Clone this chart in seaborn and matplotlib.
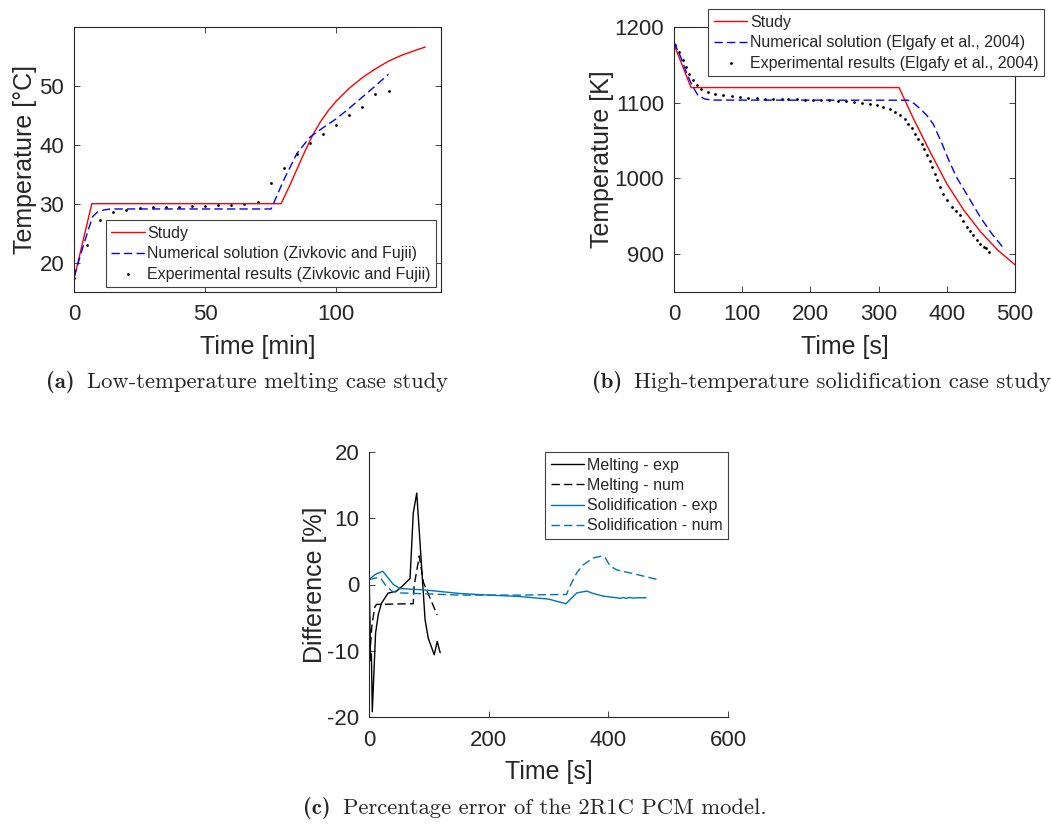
import numpy as np
import pandas as pd
import matplotlib
matplotlib.use('Agg')
import matplotlib.pyplot as plt
import seaborn as sns

# ---- (a) low temperature melting, time in min ----
melt_study_t = [0, 6.8, 79, 82, 85, 88, 91, 94, 97, 100, 105, 110, 115, 120, 125, 130, 134]
melt_study_T = [17.2, 30, 30, 32.8, 35.8, 38.8, 41.6, 43.9, 45.8, 47.4, 49.6, 51.4, 52.9, 54.2,
                55.2, 56.0, 56.6]
melt_num_t = [0, 2.7, 5.2, 7.1, 9, 11.5, 14, 75.2, 80, 85, 90, 95, 100, 105, 110, 115, 120]
melt_num_T = [17.5, 21.6, 25.2, 27.8, 28.6, 28.95, 29.1, 29.1, 34, 38.5, 41.3, 42.9, 44.4, 46.2,
              48.1, 50.0, 52.0]
melt_exp_t = [0, 5, 10, 15, 20, 25, 30, 35, 40, 45, 50, 55, 60, 65, 70, 75, 80, 85, 90, 95,
              100, 105, 110, 115, 120]
melt_exp_T = [17.3, 23.0, 27.2, 28.6, 29.0, 29.3, 29.4, 29.5, 29.5, 29.55, 29.6, 29.7, 29.8, 30.0,
              30.2, 33.5, 36.1, 38.4, 40.3, 41.9, 43.4, 45.0, 46.4, 48.7, 49.1]

# ---- (b) high temperature solidification, time in s ----
sol_study_t = [0, 25, 330, 350, 375, 400, 425, 450, 475, 500]
sol_study_T = [1177, 1120, 1120, 1081, 1036, 993, 958, 929, 905, 886]
sol_num_t = [0, 10, 20, 27, 35, 45, 55, 343, 352, 361, 370, 380, 392, 402, 414, 432, 449, 466, 484]
sol_num_T = [1180, 1160, 1136, 1122, 1110, 1105, 1103.5, 1103.3, 1099, 1092, 1084, 1072, 1048,
             1026, 1002, 975, 949, 927, 907]
sol_exp_t = [1.5, 7.8, 12.7, 17.6, 22.5, 28.3, 33.3, 39.1, 50.3, 60.1, 72.3, 84.6, 96.8, 109,
             121, 133.4, 145.6, 157.9, 167.6, 180, 192, 204, 216, 228, 240, 252, 264, 275, 287,
             297, 306, 316, 324, 331, 338, 343, 349, 354, 358, 363, 367, 371, 375, 378, 382,
             385, 390, 395, 400, 407, 413, 419, 424, 429, 434, 439, 444, 449, 454, 458, 462]
sol_exp_T = [1175.8, 1167, 1157, 1147, 1138.5, 1129.7, 1123, 1118.7, 1114.2, 1111.2, 1109.9,
             1108.5, 1107.6, 1106.8, 1106.3, 1105.5, 1105, 1105, 1105, 1104.5, 1104.2, 1104,
             1103.5, 1103, 1102.5, 1101.8, 1100.8, 1099.7, 1098, 1096.5, 1094.5, 1091.5, 1088,
             1084, 1079, 1072.5, 1066, 1059, 1052, 1046, 1039, 1031, 1023, 1015, 1006, 998, 989,
             980, 971, 962.5, 957, 951.5, 944, 936, 930, 925, 919, 914, 910, 907.5, 903]

# ---- (c) percentage error ----
err_melt_exp_t = [0, 2, 3, 4, 5.5, 11, 15.6, 21, 32, 46, 55, 68.6, 74, 79.8, 86, 93.7, 99, 109, 114, 119]
err_melt_exp_v = [3.3, -9, -11.5, -10.5, -19.2, -7.3, -4.5, -2.8, -1.3, -1.0, -0.3, 0.9, 10.8, 13.8,
                  5.3, -5.3, -8.1, -10.6, -8.6, -10.3]
err_melt_num_t = [0, 2, 5, 10, 13, 74, 75.3, 84, 91, 114]
err_melt_num_v = [-1, -9.8, -6, -3.3, -3.0, -2.9, -0.25, 4.3, 0.3, -4.6]
err_sol_exp_t = [0, 10, 23, 32, 40.7, 52, 96.5, 152, 200, 250, 300, 329, 347.5, 364, 375, 392,
                 414, 420, 425, 430, 435, 440, 450, 463]
err_sol_exp_v = [0.75, 1.5, 2.0, 1.0, 0.0, -0.6, -0.85, -1.36, -1.6, -1.8, -2.2, -2.9, -1.26,
                 -1.0, -1.36, -1.76, -2.0, -2.1, -1.95, -2.1, -1.95, -2.05, -2.0, -2.0]
err_sol_num_t = [0, 12.8, 20, 26.8, 38, 49, 152, 250, 330, 336, 347.5, 358.5, 375, 389, 395, 403,
                 414, 448, 487]
err_sol_num_v = [0.75, 1.0, 0.9, 0.0, -1.0, -1.26, -1.6, -1.6, -1.5, -0.25, 1.8, 3.0, 4.0, 4.3,
                 4.0, 2.8, 2.2, 1.5, 0.65]

sns.set_style('ticks')
plt.rcParams['font.family'] = ['Liberation Sans', 'DejaVu Sans']
plt.rcParams['axes.unicode_minus'] = False
plt.rcParams['axes.edgecolor'] = '0.15'
plt.rcParams['axes.linewidth'] = 0.8

DASH = (6, 3)
MBLUE = '#0072BD'
W, H = 1051, 824

fig = plt.figure(figsize=(W / 100, H / 100), dpi=100)


def box(l, r, t, b):
    return [l / W, 1 - b / H, (r - l) / W, (b - t) / H]


def style(ax, full=True, ylabpad=2):
    ax.tick_params(direction='in', length=4, width=0.6, colors='0.15',
                   labelsize=16, top=full, right=full)
    ax.tick_params(axis='x', pad=9)
    ax.tick_params(axis='y', pad=7)
    for s in ['top', 'right']:
        ax.spines[s].set_visible(full)
    ax.xaxis.label.set_size(18)
    ax.yaxis.label.set_size(18)
    ax.xaxis.labelpad = 7
    ax.yaxis.labelpad = ylabpad


def legend(ax, **kw):
    leg = ax.legend(fontsize=11.5, fancybox=False, frameon=True, edgecolor='0.25',
                    framealpha=1, handlelength=2.1, handletextpad=0.15, borderpad=0.35,
                    labelspacing=0.33, scatterpoints=1, **kw)
    leg.get_frame().set_linewidth(0.8)
    return leg


# (a)
ax1 = fig.add_axes(box(74, 441, 27, 292))
sns.lineplot(x=melt_study_t, y=melt_study_T, ax=ax1, color='red', lw=1, label='Study', estimator=None)
sns.lineplot(x=melt_num_t, y=melt_num_T, ax=ax1, color='blue', lw=1,
             label='Numerical solution (Zivkovic and Fujii)', estimator=None)
ax1.lines[1].set_dashes(DASH)
sns.scatterplot(x=melt_exp_t, y=melt_exp_T, ax=ax1, color='black', s=4, linewidth=0,
                label='Experimental results (Zivkovic and Fujii)')
ax1.set_xlim(0, 140)
ax1.set_ylim(15, 60)
ax1.set_xticks([0, 50, 100])
ax1.set_yticks([20, 30, 40, 50])
ax1.set_xlabel('Time [min]')
ax1.set_ylabel('Temperature [°C]')
style(ax1, ylabpad=2)
legend(ax1, loc='lower right', borderaxespad=0.3)

# (b)
ax2 = fig.add_axes(box(674, 1015, 27, 292))
sns.lineplot(x=sol_study_t, y=sol_study_T, ax=ax2, color='red', lw=1, label='Study', estimator=None)
sns.lineplot(x=sol_num_t, y=sol_num_T, ax=ax2, color='blue', lw=1,
             label='Numerical solution (Elgafy et al., 2004)', estimator=None)
ax2.lines[1].set_dashes(DASH)
sns.scatterplot(x=sol_exp_t, y=sol_exp_T, ax=ax2, color='black', s=4, linewidth=0,
                label='Experimental results (Elgafy et al., 2004)')
ax2.set_xlim(0, 500)
ax2.set_ylim(850, 1200)
ax2.set_xticks([0, 100, 200, 300, 400, 500])
ax2.set_yticks([900, 1000, 1100, 1200])
ax2.set_xlabel('Time [s]')
ax2.set_ylabel('Temperature [K]')
style(ax2, ylabpad=0.5)
legend(ax2, loc='upper right', bbox_to_anchor=(1044 / W, 1 - 9.5 / H),
       bbox_transform=fig.transFigure, borderaxespad=0)

# (c)
ax3 = fig.add_axes(box(369, 728, 452, 717))
sns.lineplot(x=err_melt_exp_t, y=err_melt_exp_v, ax=ax3, color='black', lw=1,
             label='Melting - exp', estimator=None, sort=False)
sns.lineplot(x=err_melt_num_t, y=err_melt_num_v, ax=ax3, color='black', lw=1,
             label='Melting - num', estimator=None, sort=False)
sns.lineplot(x=err_sol_exp_t, y=err_sol_exp_v, ax=ax3, color=MBLUE, lw=1,
             label='Solidification - exp', estimator=None, sort=False)
sns.lineplot(x=err_sol_num_t, y=err_sol_num_v, ax=ax3, color=MBLUE, lw=1,
             label='Solidification - num', estimator=None, sort=False)
ax3.lines[1].set_dashes(DASH)
ax3.lines[3].set_dashes(DASH)
ax3.set_xlim(0, 600)
ax3.set_ylim(-20, 20)
ax3.set_xticks([0, 200, 400, 600])
ax3.set_yticks([-20, -10, 0, 10, 20])
ax3.set_xlabel('Time [s]')
ax3.set_ylabel('Difference [%]')
style(ax3, full=False, ylabpad=0)
legend(ax3, loc='upper right', borderaxespad=0)

# captions
cap = 16.3
for lab, x0, x1, y, txt in [('(a)', 45.7, 87.3, 382, 'Low-temperature melting case study'),
                            ('(b)', 591.7, 634, 382, 'High-temperature solidification case study'),
                            ('(c)', 303.3, 343.3, 808, 'Percentage error of the 2R1C PCM model.')]:
    fig.text(x0 / W, 1 - y / H, lab, family='cmb10', fontsize=cap, va='center', ha='left')
    fig.text(x1 / W, 1 - y / H, txt, family='cmr10', fontsize=cap, va='center', ha='left')

fig.savefig('out.png', dpi=100)
